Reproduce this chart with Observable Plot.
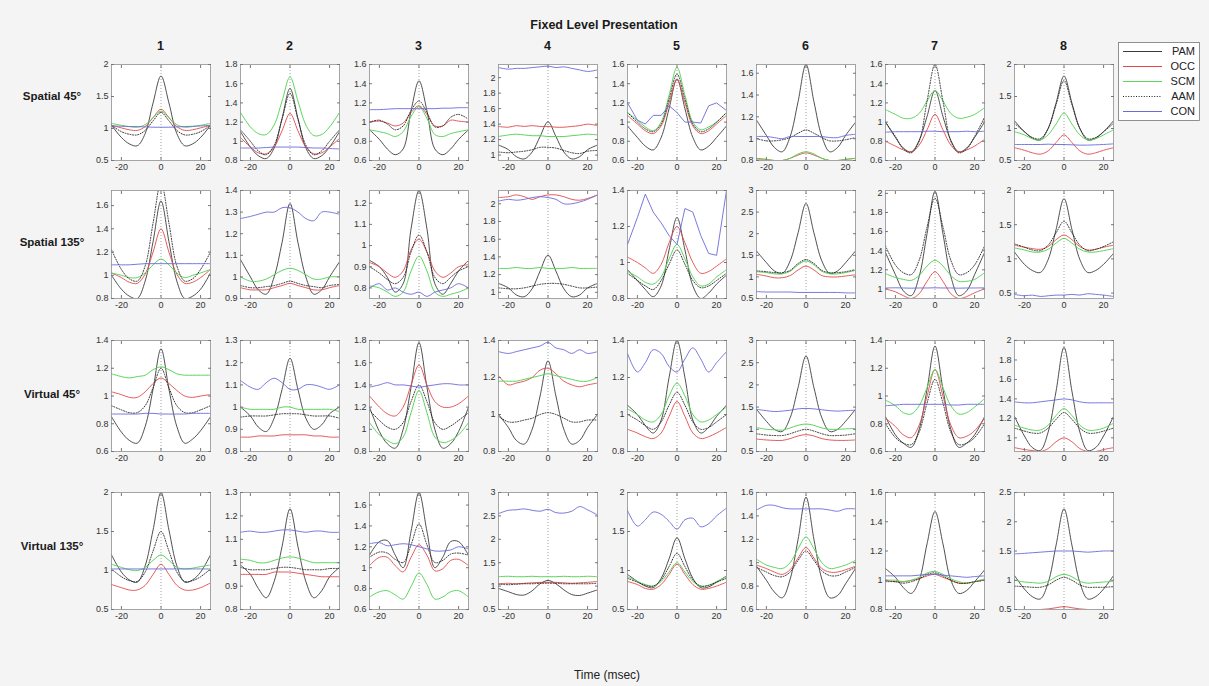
<!DOCTYPE html>
<html><head><meta charset="utf-8">
<script src="https://cdn.jsdelivr.net/npm/d3@7"></script>
<script src="https://cdn.jsdelivr.net/npm/@observablehq/plot@0.6"></script>
<style>
html,body{margin:0;padding:0;background:#f4f4f4;}
#fig{position:relative;width:1209px;height:686px;background:#f4f4f4;font-family:"Liberation Sans",Arial,Helvetica,sans-serif;overflow:hidden;}
.lbl{position:absolute;white-space:nowrap;color:#1a1a1a;transform:translate(-50%,-50%);line-height:1;}
</style></head><body><div id="fig"></div>
<script>
// ---------------- data ----------------
const time = [-25,-20,-16,-12,-8,-4,0,4,8,12,16,20,25];
const xTicks = [-20,0,20];
const title = "Fixed Level Presentation";
const xLabel = "Time (msec)";
const rowLabels = ["Spatial 45°","Spatial 135°","Virtual 45°","Virtual 135°"];
const colLabels = ["1","2","3","4","5","6","7","8"];
const seriesNames = ["PAM","OCC","SCM","AAM","CON"];

const yLimits = [
  [[0.5,2],[0.8,1.8],[0.6,1.6],[0.93,2.17],[0.6,1.6],[0.8,1.68],[0.6,1.6],[0.5,2]],
  [[0.8,1.73],[0.9,1.4],[0.75,1.26],[0.93,2.15],[0.8,1.4],[0.5,3],[0.9,2.03],[0.42,2]],
  [[0.6,1.4],[0.8,1.3],[0.8,1.8],[0.8,1.4],[0.8,1.4],[0.5,3],[0.6,1.4],[0.86,2]],
  [[0.5,2],[0.8,1.3],[0.6,1.72],[0.5,3],[0.5,2],[0.6,1.6],[0.8,1.6],[0.5,2.5]]
];
const yTicks = [
  [[0.5,1,1.5,2],[0.8,1,1.2,1.4,1.6,1.8],[0.6,0.8,1,1.2,1.4,1.6],[1,1.2,1.4,1.6,1.8,2],[0.6,0.8,1,1.2,1.4,1.6],[0.8,1,1.2,1.4,1.6],[0.6,0.8,1,1.2,1.4,1.6],[0.5,1,1.5,2]],
  [[0.8,1,1.2,1.4,1.6],[0.9,1,1.1,1.2,1.3,1.4],[0.8,0.9,1,1.1,1.2],[1,1.2,1.4,1.6,1.8,2],[0.8,1,1.2,1.4],[0.5,1,1.5,2,2.5,3],[1,1.2,1.4,1.6,1.8,2],[0.5,1,1.5,2]],
  [[0.6,0.8,1,1.2,1.4],[0.8,0.9,1,1.1,1.2,1.3],[0.8,1,1.2,1.4,1.6,1.8],[0.8,1,1.2,1.4],[0.8,1,1.2,1.4],[0.5,1,1.5,2,2.5,3],[0.6,0.8,1,1.2,1.4],[1,1.2,1.4,1.6,1.8,2]],
  [[0.5,1,1.5,2],[0.8,0.9,1,1.1,1.2,1.3],[0.6,0.8,1,1.2,1.4,1.6],[0.5,1,1.5,2,2.5,3],[0.5,1,1.5,2],[0.6,0.8,1,1.2,1.4,1.6],[0.8,1,1.2,1.4,1.6],[0.5,1,1.5,2,2.5]]
];

const PAM = [
 [
  [1.05,0.86,0.76,0.73,0.92,1.40,1.82,1.40,0.92,0.73,0.76,0.86,1.05],
  [1.10,0.94,0.85,0.82,0.93,1.24,1.55,1.24,0.93,0.82,0.85,0.94,1.10],
  [0.92,0.82,0.72,0.66,0.72,1.12,1.43,1.12,0.72,0.66,0.72,0.82,0.92],
  [1.13,1.07,0.98,0.95,1.04,1.24,1.43,1.24,1.04,0.95,0.98,1.07,1.13],
  [0.96,0.84,0.75,0.71,0.84,1.14,1.45,1.14,0.84,0.71,0.75,0.84,0.96],
  [1.17,1.03,0.92,0.88,1.02,1.34,1.68,1.34,1.02,0.88,0.92,1.03,1.15],
  [1.00,0.84,0.73,0.69,0.81,1.06,1.33,1.06,0.81,0.69,0.73,0.84,1.00],
  [1.12,0.95,0.85,0.82,1.00,1.40,1.82,1.40,1.00,0.82,0.85,0.95,1.12]
 ],
 [
  [1.00,0.88,0.82,0.80,0.95,1.29,1.64,1.29,0.95,0.80,0.82,0.88,1.02],
  [1.08,1.00,0.94,0.92,1.00,1.16,1.34,1.16,1.00,0.92,0.94,1.00,1.07],
  [0.93,0.90,0.85,0.78,0.82,1.08,1.26,1.08,0.82,0.77,0.82,0.88,0.93],
  [1.10,1.05,0.97,0.95,1.04,1.24,1.42,1.24,1.04,0.95,0.97,1.05,1.10],
  [0.96,0.90,0.85,0.81,0.87,1.07,1.25,1.07,0.87,0.80,0.83,0.88,0.93],
  [1.60,1.33,1.14,1.08,1.37,2.02,2.70,2.02,1.37,1.08,1.14,1.33,1.60],
  [1.38,1.15,0.98,0.93,1.13,1.58,2.02,1.58,1.13,0.93,0.98,1.15,1.38],
  [1.10,0.92,0.83,0.80,0.99,1.43,1.88,1.43,0.99,0.80,0.83,0.92,1.08]
 ],
 [
  [0.85,0.74,0.68,0.66,0.78,1.05,1.34,1.05,0.78,0.66,0.69,0.75,0.85],
  [1.00,0.96,0.91,0.89,0.95,1.08,1.22,1.08,0.95,0.90,0.92,0.97,1.00],
  [1.20,0.98,0.87,0.83,1.00,1.38,1.78,1.38,1.00,0.83,0.87,0.98,1.20],
  [1.00,0.93,0.86,0.84,0.92,1.10,1.29,1.10,0.92,0.84,0.86,0.93,1.00],
  [1.05,1.00,0.94,0.90,0.97,1.20,1.40,1.20,0.97,0.90,0.93,0.99,1.05],
  [1.45,1.18,1.00,0.95,1.26,1.94,2.65,1.94,1.26,0.95,1.00,1.18,1.45],
  [0.85,0.72,0.66,0.63,0.76,1.05,1.36,1.05,0.76,0.63,0.66,0.72,0.85],
  [1.22,1.02,0.90,0.87,1.06,1.48,1.93,1.48,1.06,0.87,0.90,1.02,1.22]
 ],
 [
  [1.20,0.98,0.88,0.85,1.06,1.52,2.00,1.52,1.06,0.85,0.88,0.98,1.20],
  [0.99,0.95,0.89,0.85,0.92,1.07,1.23,1.07,0.92,0.85,0.88,0.94,0.98],
  [1.12,1.25,1.26,1.12,1.00,1.35,1.72,1.35,1.00,1.10,1.25,1.25,1.12],
  [0.95,0.88,0.82,0.81,0.90,1.05,1.12,1.05,0.92,0.82,0.80,0.85,0.92],
  [0.95,0.86,0.80,0.78,0.90,1.15,1.42,1.15,0.90,0.78,0.79,0.85,0.93],
  [0.97,0.85,0.75,0.70,0.86,1.20,1.56,1.20,0.86,0.70,0.72,0.82,0.95],
  [1.08,1.02,0.95,0.91,1.00,1.25,1.47,1.25,1.00,0.91,0.93,0.99,1.07],
  [1.08,0.85,0.72,0.68,0.96,1.60,2.22,1.60,0.96,0.68,0.72,0.85,1.08]
 ]
];

const OCC = [
 [
  [1.05,1.01,0.98,0.97,1.03,1.17,1.30,1.17,1.03,0.97,0.98,1.01,1.05],
  [1.04,0.94,0.88,0.87,0.94,1.11,1.29,1.11,0.94,0.87,0.88,0.94,1.03],
  [1.00,1.01,0.99,0.96,0.99,1.10,1.17,1.08,0.96,0.96,1.02,1.01,1.00],
  [1.37,1.36,1.38,1.37,1.38,1.37,1.37,1.36,1.36,1.37,1.38,1.40,1.38],
  [1.07,0.98,0.91,0.88,0.96,1.20,1.44,1.20,0.96,0.88,0.91,0.98,1.07],
  [0.82,0.81,0.80,0.80,0.82,0.85,0.87,0.85,0.82,0.80,0.80,0.81,0.82],
  [0.80,0.75,0.71,0.69,0.76,0.92,1.08,0.92,0.76,0.69,0.71,0.75,0.82],
  [0.70,0.66,0.62,0.60,0.65,0.78,0.90,0.78,0.65,0.60,0.62,0.66,0.70]
 ],
 [
  [1.02,0.98,0.94,0.93,1.01,1.20,1.40,1.20,1.01,0.93,0.94,0.98,1.05],
  [0.95,0.94,0.94,0.94,0.95,0.96,0.97,0.96,0.95,0.94,0.94,0.95,0.96],
  [0.92,0.90,0.87,0.85,0.88,0.98,1.03,0.97,0.88,0.85,0.87,0.90,0.91],
  [2.07,2.08,2.10,2.08,2.05,2.08,2.10,2.10,2.08,2.05,2.04,2.06,2.10],
  [1.03,1.00,0.97,0.94,0.99,1.11,1.20,1.11,1.00,0.94,0.95,0.98,1.02],
  [1.06,1.02,0.98,0.98,1.03,1.16,1.25,1.16,1.03,1.00,1.00,1.02,1.05],
  [1.00,0.97,0.93,0.90,0.95,1.08,1.18,1.08,0.95,0.90,0.92,0.96,1.00],
  [1.20,1.17,1.15,1.14,1.18,1.28,1.35,1.28,1.18,1.13,1.14,1.17,1.20]
 ],
 [
  [1.03,1.01,0.99,0.99,1.03,1.09,1.13,1.09,1.04,1.00,0.99,1.00,1.01],
  [0.865,0.865,0.87,0.87,0.87,0.875,0.875,0.875,0.875,0.87,0.87,0.865,0.865],
  [1.30,1.20,1.14,1.12,1.20,1.40,1.58,1.40,1.25,1.20,1.20,1.23,1.30],
  [1.21,1.16,1.17,1.18,1.20,1.24,1.25,1.22,1.18,1.16,1.15,1.16,1.17],
  [0.92,0.90,0.88,0.87,0.90,0.99,1.07,0.99,0.90,0.87,0.88,0.90,0.93],
  [0.78,0.76,0.75,0.75,0.79,0.85,0.88,0.85,0.79,0.76,0.75,0.75,0.76],
  [0.84,0.78,0.72,0.70,0.79,1.00,1.19,1.00,0.79,0.70,0.71,0.75,0.84],
  [0.90,0.88,0.87,0.86,0.89,0.96,1.00,0.96,0.89,0.86,0.86,0.88,0.90]
 ],
 [
  [0.82,0.78,0.75,0.75,0.81,0.95,1.08,0.95,0.81,0.75,0.75,0.78,0.84],
  [0.95,0.95,0.95,0.95,0.96,0.96,0.96,0.955,0.95,0.945,0.94,0.94,0.94],
  [1.02,1.10,1.10,1.02,0.96,1.10,1.22,1.12,0.97,0.99,1.07,1.08,1.02],
  [1.05,1.06,1.05,1.06,1.07,1.08,1.08,1.08,1.07,1.06,1.07,1.08,1.10],
  [0.86,0.82,0.77,0.76,0.82,0.95,1.08,0.95,0.82,0.76,0.77,0.80,0.85],
  [0.98,0.95,0.92,0.90,0.94,1.04,1.13,1.04,0.95,0.92,0.92,0.94,0.97],
  [1.00,0.99,0.99,1.00,1.01,1.03,1.04,1.02,1.00,0.98,0.98,0.99,1.00],
  [0.50,0.50,0.50,0.50,0.51,0.53,0.55,0.53,0.51,0.50,0.50,0.50,0.50]
 ]
];

const SCM = [
 [
  [1.08,1.05,1.03,1.02,1.06,1.17,1.27,1.17,1.06,1.02,1.03,1.05,1.08],
  [1.30,1.15,1.08,1.07,1.17,1.42,1.67,1.42,1.17,1.06,1.07,1.15,1.30],
  [0.92,0.90,0.88,0.85,0.90,1.06,1.16,1.04,0.87,0.85,0.88,0.90,0.92],
  [1.24,1.26,1.27,1.26,1.25,1.25,1.24,1.24,1.24,1.25,1.26,1.27,1.26],
  [1.10,1.02,0.95,0.91,1.00,1.28,1.57,1.28,1.00,0.92,0.95,1.00,1.10],
  [0.81,0.81,0.80,0.80,0.82,0.86,0.88,0.86,0.82,0.80,0.80,0.81,0.82],
  [1.13,1.08,1.04,1.04,1.09,1.22,1.33,1.22,1.09,1.04,1.05,1.08,1.15],
  [0.95,0.90,0.84,0.82,0.90,1.07,1.24,1.07,0.90,0.82,0.84,0.90,0.98]
 ],
 [
  [1.02,1.00,0.98,0.98,1.02,1.09,1.14,1.09,1.02,0.98,1.00,1.02,1.05],
  [1.00,0.98,0.98,0.99,1.01,1.03,1.04,1.03,1.01,0.99,0.99,1.00,1.00],
  [0.81,0.80,0.78,0.76,0.78,0.88,0.95,0.88,0.78,0.76,0.77,0.78,0.80],
  [1.27,1.27,1.28,1.27,1.27,1.28,1.27,1.27,1.27,1.28,1.27,1.27,1.27],
  [0.95,0.92,0.89,0.88,0.92,1.02,1.10,1.02,0.92,0.87,0.88,0.92,0.96],
  [1.12,1.10,1.07,1.07,1.13,1.28,1.37,1.28,1.13,1.07,1.07,1.10,1.15],
  [1.16,1.12,1.10,1.09,1.14,1.24,1.30,1.24,1.14,1.08,1.08,1.10,1.17],
  [1.16,1.13,1.10,1.10,1.14,1.23,1.30,1.23,1.14,1.10,1.10,1.12,1.15]
 ],
 [
  [1.16,1.14,1.13,1.14,1.15,1.19,1.21,1.19,1.16,1.15,1.15,1.15,1.15],
  [1.00,0.99,0.99,0.99,0.99,1.00,1.00,0.99,0.99,0.99,0.99,0.99,0.98],
  [1.06,0.95,0.90,0.87,0.93,1.15,1.35,1.15,0.93,0.88,0.90,0.95,1.06],
  [1.18,1.18,1.18,1.19,1.20,1.21,1.22,1.21,1.20,1.19,1.18,1.18,1.20],
  [1.03,1.00,0.97,0.96,1.00,1.10,1.17,1.10,1.00,0.96,0.97,1.00,1.04],
  [1.04,1.00,0.99,0.98,1.03,1.09,1.12,1.09,1.03,1.00,1.00,1.01,1.02],
  [0.97,0.93,0.88,0.87,0.93,1.06,1.19,1.06,0.93,0.87,0.88,0.92,0.98],
  [1.13,1.10,1.08,1.08,1.13,1.23,1.30,1.23,1.13,1.08,1.08,1.10,1.15]
 ],
 [
  [1.08,1.04,1.01,1.00,1.04,1.13,1.20,1.13,1.04,1.02,1.03,1.05,1.07],
  [1.015,1.01,1.00,1.00,1.01,1.02,1.025,1.02,1.01,1.00,1.00,1.00,1.00],
  [0.72,0.77,0.78,0.74,0.70,0.82,0.95,0.84,0.70,0.72,0.77,0.78,0.72],
  [1.20,1.21,1.20,1.20,1.21,1.20,1.20,1.20,1.21,1.20,1.20,1.21,1.20],
  [0.92,0.86,0.82,0.80,0.86,0.98,1.10,0.98,0.86,0.80,0.81,0.86,0.92],
  [1.03,0.98,0.96,0.95,1.00,1.12,1.22,1.12,1.00,0.95,0.96,0.98,1.02],
  [1.00,1.00,0.99,1.00,1.02,1.05,1.06,1.04,1.01,0.99,0.98,0.99,1.01],
  [1.00,0.97,0.96,0.95,0.98,1.06,1.10,1.06,0.98,0.95,0.96,0.97,0.98]
 ]
];

const AAM = [
 [
  [1.05,0.95,0.91,0.90,0.97,1.12,1.25,1.12,0.97,0.90,0.91,0.95,1.05],
  [1.12,1.00,0.90,0.86,0.96,1.23,1.50,1.23,0.96,0.86,0.90,1.00,1.12],
  [1.00,1.02,0.98,0.92,0.96,1.12,1.22,1.10,0.95,0.96,1.05,1.08,1.03],
  [1.04,1.03,1.04,1.05,1.07,1.10,1.10,1.09,1.06,1.03,1.02,1.05,1.06],
  [1.10,1.00,0.93,0.90,0.98,1.24,1.50,1.24,0.98,0.90,0.93,1.00,1.10],
  [1.00,0.98,0.98,0.99,1.01,1.05,1.08,1.05,1.01,0.98,0.98,0.99,1.01],
  [1.00,0.85,0.72,0.68,0.80,1.22,1.60,1.22,0.80,0.68,0.72,0.85,1.05],
  [1.08,0.95,0.86,0.84,1.00,1.37,1.75,1.37,1.00,0.84,0.86,0.95,1.08]
 ],
 [
  [1.22,1.05,0.97,0.95,1.08,1.45,1.80,1.45,1.08,0.95,0.97,1.05,1.20],
  [0.96,0.95,0.95,0.955,0.96,0.97,0.98,0.97,0.96,0.955,0.95,0.96,0.965],
  [0.90,0.87,0.84,0.82,0.85,0.97,1.05,0.97,0.85,0.82,0.85,0.88,0.90],
  [1.05,1.04,1.04,1.05,1.07,1.09,1.10,1.10,1.09,1.07,1.05,1.05,1.06],
  [0.94,0.90,0.87,0.85,0.90,0.99,1.07,0.99,0.90,0.86,0.87,0.90,0.94],
  [1.14,1.12,1.10,1.10,1.15,1.31,1.40,1.31,1.15,1.10,1.10,1.12,1.17],
  [1.45,1.25,1.17,1.15,1.30,1.65,1.95,1.65,1.30,1.15,1.17,1.25,1.45],
  [1.22,1.17,1.13,1.12,1.20,1.38,1.55,1.38,1.20,1.12,1.14,1.18,1.25]
 ],
 [
  [0.93,0.90,0.88,0.88,0.93,1.06,1.20,1.06,0.93,0.88,0.88,0.90,0.93],
  [0.955,0.96,0.96,0.96,0.965,0.97,0.97,0.97,0.965,0.96,0.96,0.96,0.95],
  [1.17,1.08,1.02,1.00,1.06,1.25,1.40,1.25,1.06,1.00,1.03,1.08,1.15],
  [0.99,0.96,0.96,0.97,0.98,1.00,1.01,1.00,0.98,0.96,0.96,0.97,0.97],
  [1.00,0.97,0.94,0.92,0.96,1.05,1.12,1.05,0.96,0.92,0.93,0.96,1.00],
  [0.90,0.87,0.86,0.86,0.90,0.96,1.00,0.96,0.90,0.86,0.86,0.87,0.90],
  [0.80,0.70,0.66,0.65,0.74,0.95,1.12,0.95,0.74,0.65,0.66,0.70,0.80],
  [1.10,1.07,1.05,1.05,1.10,1.19,1.26,1.19,1.10,1.05,1.05,1.07,1.10]
 ],
 [
  [1.02,0.92,0.87,0.86,0.98,1.25,1.50,1.25,0.98,0.86,0.87,0.92,1.02],
  [0.98,0.97,0.97,0.97,0.975,0.98,0.98,0.975,0.97,0.97,0.97,0.975,0.975],
  [1.10,1.15,1.14,1.08,1.05,1.22,1.42,1.22,1.05,1.07,1.13,1.14,1.12],
  [1.04,1.03,1.04,1.05,1.05,1.06,1.06,1.06,1.05,1.05,1.05,1.05,1.06],
  [0.90,0.85,0.81,0.80,0.88,1.05,1.22,1.05,0.88,0.80,0.81,0.85,0.90],
  [0.96,0.92,0.89,0.88,0.92,1.02,1.10,1.02,0.93,0.89,0.89,0.92,0.96],
  [0.99,0.99,0.98,0.99,1.01,1.04,1.05,1.03,1.00,0.98,0.98,0.99,1.00],
  [0.90,0.89,0.88,0.88,0.92,1.00,1.05,1.00,0.92,0.88,0.88,0.88,0.89]
 ]
];

const CON = [
 [
  [1.04,1.035,1.03,1.03,1.025,1.02,1.02,1.02,1.025,1.03,1.035,1.04,1.05],
  [0.93,0.93,0.93,0.935,0.94,0.94,0.94,0.94,0.935,0.93,0.93,0.925,0.92],
  [1.13,1.13,1.135,1.14,1.14,1.14,1.14,1.14,1.14,1.145,1.145,1.15,1.15],
  [2.13,2.11,2.12,2.12,2.13,2.14,2.15,2.13,2.14,2.12,2.10,2.08,2.10],
  [1.20,1.02,0.98,1.07,1.07,1.17,1.10,1.00,1.00,0.99,1.17,1.20,1.12],
  [1.02,1.02,1.01,1.00,1.02,1.02,1.02,1.02,1.02,1.01,1.01,1.03,1.04],
  [0.895,0.90,0.90,0.90,0.90,0.905,0.905,0.90,0.90,0.90,0.905,0.90,0.905],
  [0.75,0.75,0.75,0.75,0.755,0.75,0.75,0.745,0.74,0.74,0.745,0.75,0.76]
 ],
 [
  [1.09,1.09,1.09,1.095,1.10,1.10,1.10,1.10,1.10,1.10,1.10,1.10,1.10],
  [1.27,1.28,1.29,1.30,1.30,1.32,1.32,1.30,1.27,1.26,1.30,1.30,1.29],
  [0.80,0.82,0.79,0.80,0.78,0.77,0.78,0.76,0.78,0.79,0.80,0.82,0.80],
  [2.03,2.05,2.04,2.05,2.07,2.08,2.07,2.05,2.00,2.00,2.02,2.05,2.10],
  [1.10,1.25,1.38,1.28,1.22,1.15,1.10,1.30,1.28,1.15,1.05,1.04,1.40],
  [0.66,0.65,0.65,0.65,0.65,0.64,0.64,0.64,0.64,0.64,0.64,0.63,0.63],
  [1.01,1.012,1.01,1.008,1.01,1.01,1.012,1.01,1.01,1.008,1.01,1.01,1.012],
  [0.48,0.46,0.47,0.45,0.46,0.47,0.47,0.48,0.47,0.49,0.48,0.47,0.45]
 ],
 [
  [0.87,0.87,0.87,0.87,0.875,0.875,0.87,0.87,0.87,0.87,0.875,0.875,0.875],
  [1.12,1.09,1.08,1.11,1.13,1.11,1.08,1.08,1.10,1.10,1.09,1.08,1.10],
  [1.38,1.40,1.42,1.40,1.40,1.39,1.38,1.39,1.40,1.41,1.41,1.40,1.40],
  [1.34,1.33,1.34,1.35,1.36,1.37,1.39,1.36,1.35,1.33,1.35,1.33,1.34],
  [1.33,1.23,1.28,1.35,1.33,1.26,1.23,1.30,1.36,1.30,1.23,1.28,1.34],
  [1.45,1.42,1.40,1.41,1.43,1.46,1.47,1.46,1.44,1.42,1.41,1.42,1.43],
  [0.93,0.935,0.94,0.94,0.94,0.94,0.94,0.94,0.935,0.935,0.94,0.94,0.94],
  [1.37,1.36,1.36,1.37,1.38,1.39,1.40,1.39,1.37,1.36,1.36,1.36,1.36]
 ],
 [
  [1.02,1.02,1.02,1.02,1.02,1.02,1.02,1.02,1.02,1.02,1.02,1.02,1.02],
  [1.13,1.135,1.13,1.13,1.135,1.14,1.14,1.135,1.13,1.135,1.135,1.13,1.13],
  [1.23,1.24,1.21,1.22,1.23,1.22,1.20,1.18,1.16,1.16,1.17,1.20,1.18],
  [2.55,2.62,2.63,2.65,2.62,2.60,2.64,2.57,2.56,2.60,2.70,2.63,2.52],
  [1.77,1.57,1.65,1.75,1.72,1.63,1.53,1.65,1.67,1.56,1.60,1.70,1.80],
  [1.45,1.49,1.49,1.47,1.46,1.46,1.46,1.46,1.46,1.45,1.44,1.46,1.46],
  [1.03,1.03,1.03,1.03,1.035,1.04,1.04,1.035,1.03,1.025,1.02,1.025,1.03],
  [1.45,1.46,1.47,1.48,1.49,1.50,1.50,1.50,1.49,1.48,1.49,1.50,1.50]
 ]
];
const seriesValues = [PAM, OCC, SCM, AAM, CON];
const steppedPanels = ["0-4","1-4"]; // CON drawn with straight segments there

// ---------------- styles / layout ----------------
const styles = {
  PAM: {stroke:"#3c3c3c", width:0.9},
  OCC: {stroke:"#e2484a", width:0.9},
  SCM: {stroke:"#5cd65c", width:1.0},
  AAM: {stroke:"#1e1e1e", width:0.9, dash:"1,1.6"},
  CON: {stroke:"#6a6ad9", width:0.9}
};
const FONT = '"Liberation Sans", Arial, Helvetica, sans-serif';
const PW = 99;
const colLeft = c => 111 + 129 * c;
const rowTop = [64, 190, 340, 492];
const rowH = [96, 108, 111, 117];
const ML = 30, MR = 4, MT = 4, MB = 20;
const fig = document.getElementById("fig");
const fmt = d => String(+d.toFixed(2));

function addText(txt, x, y, css) {
  const d = document.createElement("div");
  d.className = "lbl";
  d.textContent = txt;
  d.style.left = x + "px";
  d.style.top = y + "px";
  Object.assign(d.style, css || {});
  fig.appendChild(d);
}

function makePanel(r, c) {
  const marks = [
    Plot.frame({fill: "white", stroke: null}),
    Plot.ruleX([0], {stroke: "#8c8c8c", strokeWidth: 0.8, strokeDasharray: "1,2"})
  ];
  seriesNames.forEach((name, k) => {
    const vals = seriesValues[k][r][c];
    const st = styles[name];
    const stepped = name === "CON" && steppedPanels.includes(r + "-" + c);
    marks.push(Plot.line(time.map((t, i) => ({t, v: vals[i]})), {
      x: "t", y: "v", stroke: st.stroke, strokeWidth: st.width,
      strokeDasharray: st.dash || null, curve: stepped ? "linear" : "catmull-rom", clip: true
    }));
  });
  marks.push(Plot.frame({stroke: "#8f8f8f", strokeWidth: 0.8}));
  marks.push(Plot.axisX({ticks: xTicks, anchor: "bottom", tickSize: -3, tickPadding: 6, tickFormat: fmt, stroke: "#777", fill: "#333"}));
  marks.push(Plot.axisX({ticks: xTicks, anchor: "top", tickSize: -3, tickFormat: () => "", stroke: "#777"}));
  marks.push(Plot.axisY({ticks: yTicks[r][c], anchor: "left", tickSize: -3, tickPadding: 6, tickFormat: fmt, stroke: "#777", fill: "#333"}));
  marks.push(Plot.axisY({ticks: yTicks[r][c], anchor: "right", tickSize: -3, tickFormat: () => "", stroke: "#777"}));
  const svg = Plot.plot({
    width: ML + PW + MR, height: MT + rowH[r] + MB,
    marginLeft: ML, marginRight: MR, marginTop: MT, marginBottom: MB,
    x: {domain: [-25, 25], label: null},
    y: {domain: yLimits[r][c], label: null},
    style: {background: "transparent", fontSize: "9px", fontFamily: FONT, color: "#333", overflow: "visible"},
    marks
  });
  svg.style.position = "absolute";
  svg.style.left = (colLeft(c) - ML) + "px";
  svg.style.top = (rowTop[r] - MT) + "px";
  svg.style.maxWidth = "none";
  fig.appendChild(svg);
}

for (let r = 0; r < 4; r++) for (let c = 0; c < 8; c++) makePanel(r, c);

// texts
addText(title, 604, 25, {fontWeight: "bold", fontSize: "12.5px"});
colLabels.forEach((t, c) => addText(t, colLeft(c) + PW / 2, 46, {fontWeight: "bold", fontSize: "12.5px"}));
const rowLabelY = [97, 243, 395, 547];
rowLabels.forEach((t, r) => addText(t, 52, rowLabelY[r], {fontWeight: "bold", fontSize: "11.5px"}));
addText(xLabel, 607, 675, {fontSize: "12px", color: "#222"});

// legend
(function legend() {
  const lx = 1118, ly = 42, lw = 82, lh = 79;
  const svg = d3.create("svg").attr("width", lw).attr("height", lh)
    .style("position", "absolute").style("left", lx + "px").style("top", ly + "px");
  svg.append("rect").attr("x", 0.5).attr("y", 0.5).attr("width", lw - 1).attr("height", lh - 1)
    .attr("fill", "white").attr("stroke", "#777").attr("stroke-width", 0.8);
  seriesNames.forEach((name, i) => {
    const y = 9.5 + i * 15;
    const st = styles[name];
    svg.append("line").attr("x1", 5).attr("x2", 44).attr("y1", y).attr("y2", y)
      .attr("stroke", st.stroke).attr("stroke-width", st.width + 0.2)
      .attr("stroke-dasharray", st.dash || null);
    svg.append("text").attr("x", lw - 5).attr("y", y).attr("dy", "0.36em")
      .attr("text-anchor", "end").attr("font-size", "11px").attr("font-family", FONT)
      .attr("fill", "#222").text(name);
  });
  fig.appendChild(svg.node());
})();
</script></body></html>
